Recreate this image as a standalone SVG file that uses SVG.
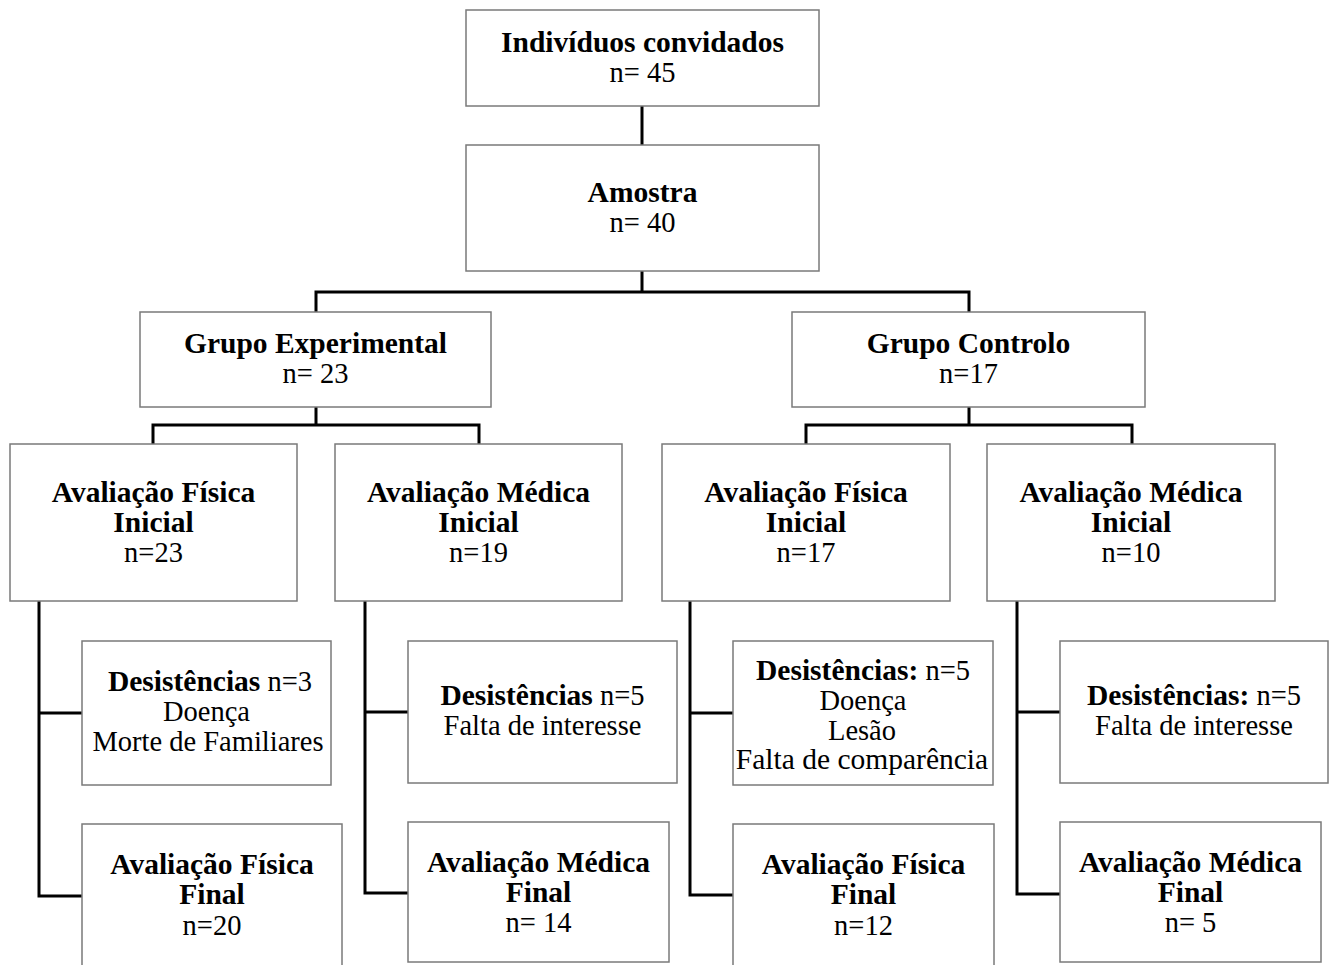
<svg xmlns="http://www.w3.org/2000/svg" width="1330" height="965" viewBox="0 0 1330 965">
<style>
.box{fill:#ffffff;stroke:#7a7a7a;stroke-width:1.5}
.c{fill:none;stroke:#000;stroke-width:3;stroke-linecap:square}
text{font-family:"Liberation Serif","Times New Roman",serif;font-size:28.5px;fill:#000;text-anchor:middle}
.b{font-weight:bold;font-size:29.5px}
tspan.b{font-size:29.5px}
.w{font-size:29.5px}
</style>
<rect width="1330" height="965" fill="#fff"/>
<g id="connectors">
<path class="c" d="M642,106V145"/>
<path class="c" d="M642,271V292M316,292H969M316,292V312M969,292V312"/>
<path class="c" d="M316,407V425M153,425H479M153,425V444M479,425V444"/>
<path class="c" d="M969,407V425M806,425H1132M806,425V444M1132,425V444"/>
<path class="c" d="M39,601V896H82M39,713H82"/>
<path class="c" d="M365,601V893H408M365,712H408"/>
<path class="c" d="M690,601V895H733M690,713H733"/>
<path class="c" d="M1017,601V894H1060M1017,712H1060"/>
</g>
<g id="n-convidados">
<rect class="box" x="466" y="10" width="353" height="96"/>
<text x="642.5" y="52" class="b">Indivíduos convidados</text>
<text x="642.5" y="82">n= 45</text>
</g>
<g id="n-amostra">
<rect class="box" x="466" y="145" width="353" height="126"/>
<text x="642.5" y="202" class="b">Amostra</text>
<text x="642.5" y="232">n= 40</text>
</g>
<g id="n-grupo-exp">
<rect class="box" x="140" y="312" width="351" height="95"/>
<text x="315.5" y="353" class="b">Grupo Experimental</text>
<text x="315.5" y="383">n= 23</text>
</g>
<g id="n-grupo-ctrl">
<rect class="box" x="792" y="312" width="353" height="95"/>
<text x="968.5" y="353" class="b">Grupo Controlo</text>
<text x="968.5" y="383">n=17</text>
</g>
<g id="n-afi-exp">
<rect class="box" x="10" y="444" width="287" height="157"/>
<text x="153.5" y="502" class="b">Avaliação Física</text>
<text x="153.5" y="532" class="b">Inicial</text>
<text x="153.5" y="562">n=23</text>
</g>
<g id="n-ami-exp">
<rect class="box" x="335" y="444" width="287" height="157"/>
<text x="478.5" y="502" class="b">Avaliação Médica</text>
<text x="478.5" y="532" class="b">Inicial</text>
<text x="478.5" y="562">n=19</text>
</g>
<g id="n-afi-ctrl">
<rect class="box" x="662" y="444" width="288" height="157"/>
<text x="806" y="502" class="b">Avaliação Física</text>
<text x="806" y="532" class="b">Inicial</text>
<text x="806" y="562">n=17</text>
</g>
<g id="n-ami-ctrl">
<rect class="box" x="987" y="444" width="288" height="157"/>
<text x="1131" y="502" class="b">Avaliação Médica</text>
<text x="1131" y="532" class="b">Inicial</text>
<text x="1131" y="562">n=10</text>
</g>
<g id="n-des-e1">
<rect class="box" x="82" y="641" width="249" height="144"/>
<text x="210" y="691"><tspan class="b">Desistências</tspan> n=3</text>
<text x="206.5" y="721">Doença</text>
<text x="208" y="751">Morte de Familiares</text>
</g>
<g id="n-des-e2">
<rect class="box" x="408" y="641" width="269" height="142"/>
<text x="542.5" y="705"><tspan class="b">Desistências</tspan> n=5</text>
<text x="542.5" y="735">Falta de interesse</text>
</g>
<g id="n-des-c1">
<rect class="box" x="733" y="641" width="260" height="144"/>
<text x="863" y="680"><tspan class="b">Desistências:</tspan> n=5</text>
<text x="863" y="710">Doença</text>
<text x="862" y="740">Lesão</text>
<text x="862" y="769" class="w">Falta de comparência</text>
</g>
<g id="n-des-c2">
<rect class="box" x="1060" y="641" width="268" height="142"/>
<text x="1194" y="705"><tspan class="b">Desistências:</tspan> n=5</text>
<text x="1194" y="735">Falta de interesse</text>
</g>
<g id="n-aff-exp">
<rect class="box" x="82" y="824" width="260" height="150"/>
<text x="212" y="874" class="b">Avaliação Física</text>
<text x="212" y="904" class="b">Final</text>
<text x="212" y="935">n=20</text>
</g>
<g id="n-amf-exp">
<rect class="box" x="408" y="822" width="261" height="140"/>
<text x="538.5" y="872" class="b">Avaliação Médica</text>
<text x="538.5" y="902" class="b">Final</text>
<text x="538.5" y="932">n= 14</text>
</g>
<g id="n-aff-ctrl">
<rect class="box" x="733" y="824" width="261" height="150"/>
<text x="863.5" y="874" class="b">Avaliação Física</text>
<text x="863.5" y="904" class="b">Final</text>
<text x="863.5" y="935">n=12</text>
</g>
<g id="n-amf-ctrl">
<rect class="box" x="1060" y="822" width="261" height="140"/>
<text x="1190.5" y="872" class="b">Avaliação Médica</text>
<text x="1190.5" y="902" class="b">Final</text>
<text x="1190.5" y="932">n= 5</text>
</g>
</svg>
